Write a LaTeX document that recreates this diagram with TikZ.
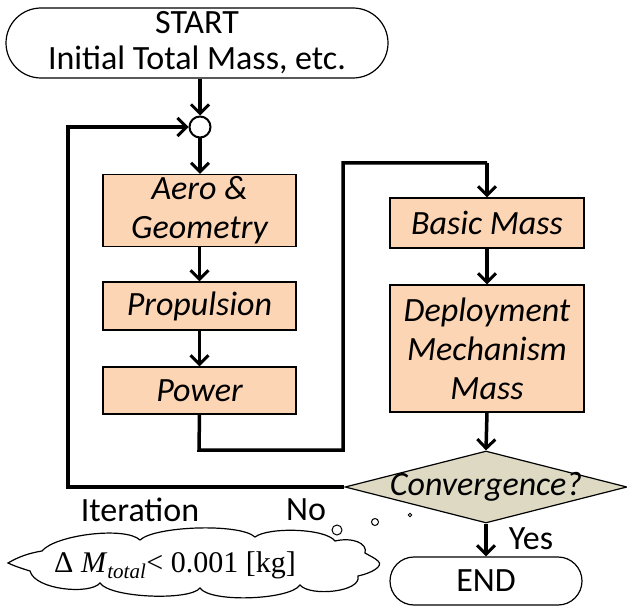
\documentclass[tikz,border=0pt]{standalone}
\usepackage{fontspec}
\setmainfont{Carlito}
\newfontfamily\timesf{Liberation Serif}
\usetikzlibrary{arrows.meta,shapes.geometric,shapes.misc}
\definecolor{peach}{RGB}{252,213,181}
\definecolor{tan}{RGB}{221,217,195}
\begin{document}
\begin{tikzpicture}[x=1pt,y=-1pt,
  txt/.style={font=\fontsize{34}{36}\selectfont, align=center, inner sep=0pt},
  proc/.style={txt, draw, line width=1.2pt, fill=peach, font=\fontsize{34}{39}\selectfont\itshape, minimum width=193pt},
  term/.style={txt, draw, line width=1.2pt, rounded rectangle},
  flow/.style={line width=3.5pt, -{Straight Barb[length=9pt,width=18pt,line width=3pt]}},
  plain/.style={line width=3.5pt},
  puff/.style={line width=1.2pt}]
\useasboundingbox (0,0) rectangle (627,607);
\node[term, minimum width=382pt, minimum height=70pt] (start) at (197,43) {START\\Initial Total Mass, etc.};
\node[draw, circle, line width=2pt, minimum size=21pt, inner sep=0pt] (j) at (200,127) {};
\node[proc, minimum height=72pt] (aero) at (199.5,210.5) {Aero \&\\Geometry};
\node[proc, minimum height=48pt] (prop) at (199.5,306) {Propulsion};
\node[proc, minimum height=47pt] (pow) at (199.5,390.5) {Power};
\node[proc, minimum height=50pt, minimum width=194pt] (basic) at (487,223) {Basic Mass};
\node[proc, minimum height=127pt, minimum width=194pt] (dep) at (487,348.5) {Deployment\\Mechanism\\Mass};
\node[draw, diamond, aspect=3.9, fill=tan, line width=1.2pt, inner sep=-20pt, minimum width=282pt, minimum height=72pt, font=\fontsize{34}{38}\selectfont\itshape] (conv) at (486,487) {Convergence?};
\node[term, minimum width=192pt, minimum height=48pt] (end) at (486,581) {END};
\coordinate (lb) at (68,487);
\coordinate (lt) at (68,127);
\coordinate (p1) at (199,450);
\coordinate (p2) at (343,450);
\coordinate (p3) at (343,163);
\coordinate (p4) at (487,163);
\draw[flow] (start.south -| j) -- (j.north);
\draw[flow] (j.south) -- (aero.north -| j);
\draw[flow] (aero) -- (prop);
\draw[flow] (prop) -- (pow);
\draw[flow] (basic) -- (dep);
\draw[flow] (dep.south) -- (conv.north);
\draw[flow] (conv.south) -- (end.north);
\draw[plain] (pow.south) -- (p1) -- (p2) -- (p3) -- (p4);
\draw[flow] (p4) -- (basic.north);
\draw[flow] (conv.west) -- (lb) -- (lt) -- (j.west);
\node[txt] (iter) at (140,510) {Iteration};
\node[txt] (no) at (306,510) {No};
\node[txt] (yes) at (531,539) {Yes};
% cloud
\draw[puff, fill=white] (8,563)
  .. controls (20,556) and (30,553) .. (42,551)
  .. controls (55,535) and (125,526) .. (140,540)
  .. controls (155,526) and (240,523) .. (255,537)
  .. controls (268,527) and (325,528) .. (335,541)
  .. controls (352,537) and (368,543) .. (365,553)
  .. controls (370,556) and (375,558) .. (378,561)
  .. controls (384,566) and (372,573) .. (358,576)
  .. controls (362,592) and (310,597) .. (300,585)
  .. controls (290,600) and (210,603) .. (200,588)
  .. controls (190,601) and (110,598) .. (100,583)
  .. controls (90,595) and (35,590) .. (30,571)
  .. controls (20,568) and (12,565) .. (8,563) -- cycle;
\node[inner sep=0pt, font=\fontsize{30}{32}\selectfont\timesf] (ctext) at (175,565) {Δ \textit{M}\textsubscript{\textit{total}}< 0.001 [kg]};
\node[draw, circle, line width=1pt, minimum size=10pt, inner sep=0pt] (b1) at (337,530) {};
\node[draw, circle, line width=1pt, minimum size=7pt, inner sep=0pt] (b2) at (375,522) {};
\node[draw, circle, line width=1pt, minimum size=3.5pt, inner sep=0pt] (b3) at (410,515) {};
\end{tikzpicture}
\end{document}
